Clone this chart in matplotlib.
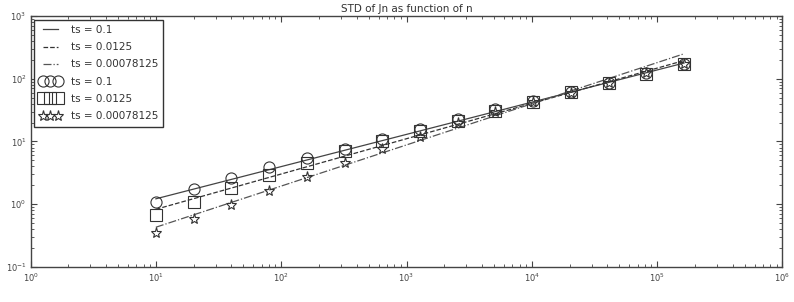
import matplotlib
matplotlib.use("Agg")
import matplotlib.pyplot as plt

n_values = [10, 20, 40, 80, 160, 320, 640, 1280, 2560, 5120, 10240, 20480, 40960, 81920, 163840]
std_ts_01 = [1.08, 1.72, 2.6, 3.9, 5.5, 7.5, 11.0, 16.0, 23.0, 32.5, 44.0, 62.0, 87.0, 123.0, 174.0]
std_ts_00125 = [0.68, 1.1, 1.8, 2.9, 4.6, 7.0, 10.0, 14.8, 21.3, 30.8, 43.0, 61.0, 85.0, 121.0, 172.0]
std_ts_000078 = [0.35, 0.58, 0.97, 1.64, 2.75, 4.5, 7.6, 12.0, 19.7, 29.5, 42.0, 60.0, 85.0, 122.0, 173.0]

fit_n = [10, 163840]
fit_ts_01 = [1.22, 178.0]
fit_ts_00125 = [0.83, 195.0]
fit_ts_000078 = [0.43, 250.0]

labels = ["ts = 0.1", "ts = 0.0125", "ts = 0.00078125"]

fig = plt.figure(figsize=(7.94, 3.02), dpi=100, facecolor="white")
ax = fig.add_axes([0.0385, 0.116, 0.947, 0.831])

ax.plot(fit_n, fit_ts_01, "-", color="#444444", lw=0.9, label=labels[0])
ax.plot(fit_n, fit_ts_00125, "--", color="#333333", lw=0.9, label=labels[1])
ax.plot(fit_n, fit_ts_000078, "-.", color="#555555", lw=0.9, label=labels[2])

mk = dict(ls="none", mfc="none", mec="#333333", mew=0.8, ms=8)
ax.plot(n_values, std_ts_01, marker="o", label=labels[0], **mk)
ax.plot(n_values, std_ts_00125, marker="s", label=labels[1], **mk)
ax.plot(n_values, std_ts_000078, marker="*", label=labels[2], **mk)

ax.set_xscale("log")
ax.set_yscale("log")
ax.set_xlim(1, 1e6)
ax.set_ylim(0.1, 1000)
ax.set_title("STD of Jn as function of n", fontsize=7.5, color="#333333", pad=3)

ax.tick_params(which="both", direction="in", top=True, right=True, labelsize=6,
               labelcolor="#444444", color="#444444", pad=3)
ax.tick_params(which="major", length=4)
ax.tick_params(which="minor", length=2)
for s in ax.spines.values():
    s.set_color("#444444")
    s.set_linewidth(1.0)

leg = ax.legend(loc="upper left", numpoints=3, fontsize=7.5, fancybox=False, framealpha=1,
                edgecolor="#333333", borderpad=0.5, labelspacing=0.7, handlelength=2.1,
                handletextpad=0.9, borderaxespad=0.35)
leg.get_frame().set_linewidth(1.0)
for t in leg.get_texts():
    t.set_color("#333333")

fig.savefig("out.png", dpi=100, facecolor="white")
